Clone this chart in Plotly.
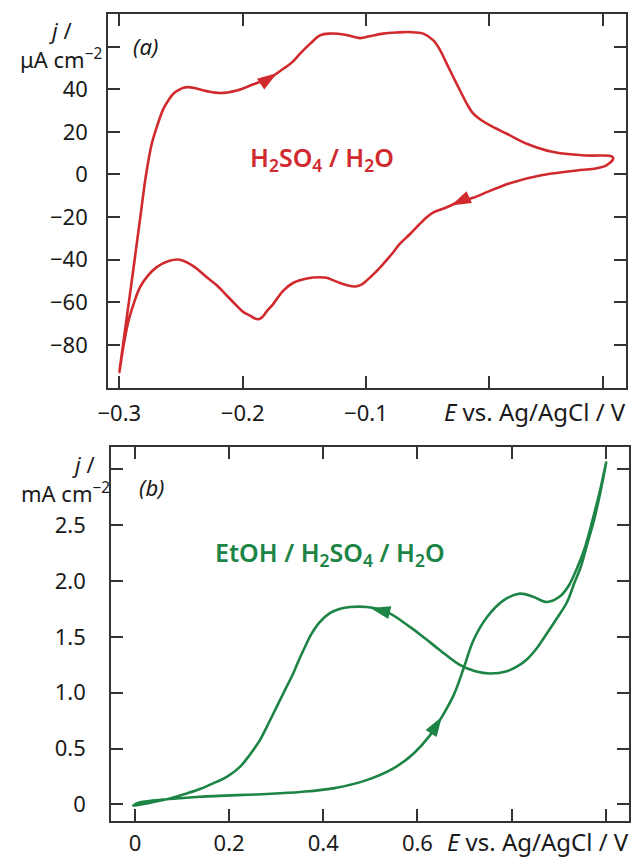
import numpy as np
import plotly.graph_objects as go

# ---------------- data: panel (a) H2SO4 / H2O, j in uA cm^-2 ----------------
a_fwd_E = [-0.3000, -0.2970, -0.2923, -0.2876, -0.2830, -0.2783, -0.2737, -0.2697,
           -0.2643, -0.2600, -0.2562, -0.2520, -0.2481, -0.2440, -0.2400, -0.2291,
           -0.2183, -0.2048, -0.1913, -0.1778, -0.1670, -0.1600, -0.1534, -0.1450,
           -0.1372, -0.1291, -0.1170, -0.1048, -0.0960, -0.0859, -0.0750, -0.0642,
           -0.0535, -0.0453, -0.0400, -0.0345, -0.0290, -0.0237, -0.0180, -0.0129,
           -0.0060, 0.0007, 0.0142, 0.0304, 0.0520, 0.0791, 0.0993, 0.1006]
a_fwd_j = [-92.8, -80.0, -60.0, -40.0, -20.0, 0.0, 14.4, 22.2,
           30.8, 35.0, 37.9, 39.6, 40.7, 41.0, 40.7, 39.1,
           38.2, 39.4, 42.3, 45.4, 49.6, 52.6, 56.7, 61.5,
           65.3, 66.1, 65.6, 64.0, 65.0, 66.1, 66.6, 66.8,
           66.1, 62.9, 58.5, 52.0, 45.5, 39.4, 33.0, 28.5,
           25.3, 23.0, 19.1, 14.4, 10.5, 8.9, 8.5, 7.4]
a_rev_E = [0.1006, 0.0946, 0.0850, 0.0710, 0.0560, 0.0412, 0.0195, 0.0070,
           -0.0020, -0.0130, -0.0237, -0.0340, -0.0453, -0.0510, -0.0561, -0.0640,
           -0.0724, -0.0790, -0.0859, -0.0930, -0.0993, -0.1040, -0.1088, -0.1180,
           -0.1264, -0.1320, -0.1372, -0.1480, -0.1589, -0.1670, -0.1751, -0.1810,
           -0.1840, -0.1870, -0.1900, -0.1940, -0.1994, -0.2060, -0.2129, -0.2210,
           -0.2291, -0.2400, -0.2508, -0.2600, -0.2697, -0.2770, -0.2832, -0.2880,
           -0.2925, -0.2962, -0.3000]
a_rev_j = [7.4, 4.2, 2.7, 1.9, 0.8, -0.5, -3.6, -6.2,
           -8.3, -10.9, -12.6, -15.3, -17.8, -20.2, -23.1, -27.8,
           -32.5, -37.3, -41.9, -46.3, -49.7, -51.8, -52.6, -51.5,
           -49.7, -48.5, -48.2, -48.8, -50.8, -54.5, -60.7, -64.6,
           -66.9, -67.9, -67.6, -66.2, -64.6, -60.9, -56.8, -52.0,
           -48.2, -43.0, -40.0, -40.6, -43.5, -47.6, -52.9, -60.0,
           -68.5, -79.0, -92.8]
a_arrows_E = [-0.172, -0.031]          # forward, reverse

# ---------------- data: panel (b) EtOH / H2SO4 / H2O, j in mA cm^-2 ----------
b_fwd_E = [-0.004, 0.011, 0.067, 0.138, 0.280, 0.351, 0.421, 0.492, 0.549,
           0.592, 0.627, 0.652, 0.677, 0.698, 0.719, 0.748, 0.783, 0.818,
           0.847, 0.875, 0.903, 0.922, 0.939, 0.956, 0.973, 0.988, 1.001]
b_fwd_j = [-0.012, 0.018, 0.045, 0.068, 0.093, 0.111, 0.143, 0.217, 0.322,
           0.456, 0.620, 0.784, 0.978, 1.216, 1.470, 1.678, 1.827, 1.887,
           1.857, 1.812, 1.863, 1.962, 2.114, 2.301, 2.561, 2.811, 3.064]
b_rev_E = [1.001, 0.988, 0.975, 0.961, 0.947, 0.933, 0.918, 0.896, 0.875,
           0.854, 0.833, 0.812, 0.790, 0.754, 0.723, 0.691, 0.648, 0.616,
           0.584, 0.535, 0.492, 0.457, 0.436, 0.414, 0.392, 0.374, 0.360,
           0.348, 0.336, 0.315, 0.301, 0.280, 0.266, 0.244, 0.223, 0.195,
           0.166, 0.138, 0.110, 0.067, 0.025, -0.004]
b_rev_j = [3.064, 2.782, 2.543, 2.335, 2.125, 1.977, 1.812, 1.664, 1.530,
           1.400, 1.300, 1.235, 1.192, 1.172, 1.192, 1.246, 1.380, 1.487,
           1.589, 1.723, 1.767, 1.767, 1.752, 1.712, 1.630, 1.520, 1.400,
           1.290, 1.172, 0.993, 0.873, 0.694, 0.580, 0.445, 0.336, 0.247,
           0.188, 0.137, 0.098, 0.045, 0.009, -0.012]
b_arrows_E = [0.652, 0.500]             # forward, reverse

# ---------------- ticks ----------------
a_xticks = [-0.3, -0.2, -0.1, 0.0, 0.092]
a_xlabels = ["−0.3", "−0.2", "−0.1", "", ""]
a_yticks = [-80, -60, -40, -20, 0, 20, 40, 60]
a_ylabels = ["−80", "−60", "−40", "−20", "0", "20", "40", ""]
b_xticks = [0, 0.2, 0.4, 0.6, 0.8, 1.0]
b_xlabels = ["0", "0.2", "0.4", "0.6", "", ""]
b_yticks = [0, 0.5, 1.0, 1.5, 2.0, 2.5, 3.0]
b_ylabels = ["0", "0.5", "1.0", "1.5", "2.0", "2.5", ""]

RED = "#d12a2e"
GREEN = "#1c8445"
AX = "#333333"
FONT = "Noto Sans"
W, H = 639, 857


def px(x):
    return x / W


def py(y):
    return 1 - y / H


def arrow(fE, fj, rE, rj, at, forward, xa, ya, color):
    if forward:
        xs, ys = np.array(fE), np.array(fj)
        prev = at - 0.004 * (xs.max() - xs.min())
    else:
        xs, ys = np.array(rE)[::-1], np.array(rj)[::-1]
        prev = at + 0.004 * (xs.max() - xs.min())
    y0 = float(np.interp(prev, xs, ys))
    y1 = float(np.interp(at, xs, ys))
    return go.Scatter(x=[prev, at], y=[y0, y1], mode="markers", xaxis=xa, yaxis=ya,
                      marker=dict(symbol="arrow", angleref="previous", size=[0, 21],
                                  color=color, opacity=1, line=dict(width=0)),
                      hoverinfo="skip", showlegend=False)


fig = go.Figure()
fig.add_trace(go.Scatter(x=a_fwd_E + a_rev_E[1:], y=a_fwd_j + a_rev_j[1:], mode="lines",
                         line=dict(color=RED, width=2.6, shape="spline", smoothing=1.0),
                         xaxis="x", yaxis="y", showlegend=False))
fig.add_trace(go.Scatter(x=b_fwd_E + b_rev_E[1:], y=b_fwd_j + b_rev_j[1:], mode="lines",
                         line=dict(color=GREEN, width=2.6, shape="spline", smoothing=1.0),
                         xaxis="x2", yaxis="y2", showlegend=False))
fig.add_trace(arrow(a_fwd_E, a_fwd_j, a_rev_E, a_rev_j, a_arrows_E[0], True, "x", "y", RED))
fig.add_trace(arrow(a_fwd_E, a_fwd_j, a_rev_E, a_rev_j, a_arrows_E[1], False, "x", "y", RED))
fig.add_trace(arrow(b_fwd_E, b_fwd_j, b_rev_E, b_rev_j, b_arrows_E[0], True, "x2", "y2", GREEN))
fig.add_trace(arrow(b_fwd_E, b_fwd_j, b_rev_E, b_rev_j, b_arrows_E[1], False, "x2", "y2", GREEN))

tickfont = dict(family=FONT, size=22, color="#1a1a1a")
common = dict(showline=True, linecolor=AX, linewidth=1.6, mirror="ticks", ticks="inside",
              ticklen=12, tickwidth=1.5, tickcolor=AX, showgrid=False, zeroline=False,
              tickfont=tickfont, tickmode="array", automargin=False)

fig.update_layout(
    width=W, height=H, margin=dict(l=0, r=0, t=0, b=0, autoexpand=False),
    paper_bgcolor="white", plot_bgcolor="white",
    xaxis=dict(domain=[px(108), px(626)], range=[-0.3092, 0.1109], anchor="y",
               tickvals=a_xticks, ticktext=a_xlabels, ticklabelstandoff=5, **common),
    yaxis=dict(domain=[py(388), py(14)], range=[-100.2, 75.3], anchor="x",
               tickvals=a_yticks, ticktext=a_ylabels, ticklabelstandoff=14, **common),
    xaxis2=dict(domain=[px(111), px(629)], range=[-0.051, 1.0495], anchor="y2",
                tickvals=b_xticks, ticktext=b_xlabels, ticklabelstandoff=2, **common),
    yaxis2=dict(domain=[py(821), py(447.3)], range=[-0.149, 3.197], anchor="x2",
                tickvals=b_yticks, ticktext=b_ylabels, ticklabelstandoff=19, **common),
)

ann = []


def text(t, x, y, xanchor="center", size=22, color="#1a1a1a", weight=None):
    f = dict(family=FONT, size=size, color=color)
    if weight:
        f["weight"] = weight
    ann.append(dict(text=t, x=px(x), y=py(y), xref="paper", yref="paper", showarrow=False,
                    xanchor=xanchor, yanchor="middle", font=f))


text("<i>j</i> /", 74, 30, "right")
text("μA cm<sup>−2</sup>", 104, 58, "right")
text("<i>(a)</i>", 145, 46)
text("H<sub>2</sub>SO<sub>4</sub> / H<sub>2</sub>O", 322, 158, color=RED, size=25, weight=600)
text("<i>E</i> vs. Ag/AgCl / V", 628, 411, "right", size=24)

text("<i>j</i> /", 97, 464, "right")
text("mA cm<sup>−2</sup>", 112, 492, "right")
text("<i>(b)</i>", 152, 487)
text("EtOH / H<sub>2</sub>SO<sub>4</sub> / H<sub>2</sub>O", 330, 553, color=GREEN, size=25, weight=600)
text("<i>E</i> vs. Ag/AgCl / V", 631, 841, "right", size=24)

fig.update_layout(annotations=ann)
fig.write_html("out.html")
